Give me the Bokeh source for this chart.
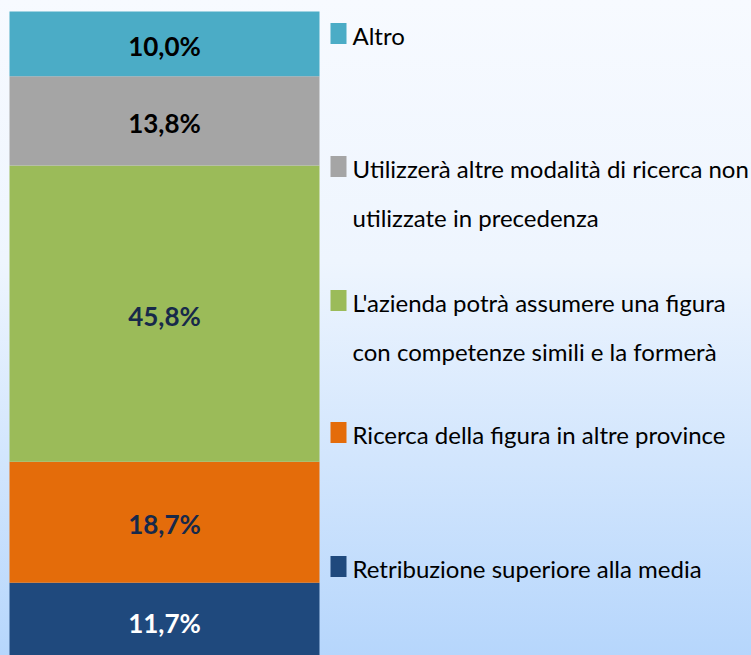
from bokeh.plotting import figure
from bokeh.models import Range1d, ColumnDataSource, InlineStyleSheet
from bokeh.embed import file_html
from bokeh.resources import INLINE
from bokeh.core.properties import value
import numpy as np

# ---- data (stacked from bottom to top) ----
categories = [
    "Retribuzione superiore alla media",
    "Ricerca della figura in altre province",
    "L'azienda potrà assumere una figura\ncon competenze simili e la formerà",
    "Utilizzerà altre modalità di ricerca non\nutilizzate in precedenza",
    "Altro",
]
values = [11.7, 18.7, 45.8, 13.8, 10.0]

# ---- styles ----
colors = ["#1f497d", "#e46c0a", "#9bbb59", "#a5a5a5", "#4bacc6"]
label_colors = ["#ffffff", "#17294a", "#17294a", "#000000", "#000000"]
legend_y = [566, 432, 300, 166, 33]      # screen px centre of each legend swatch
FONT = "Lato"

W, H = 751, 655
p = figure(width=W, height=H, output_backend="svg", toolbar_location=None,
           x_range=Range1d(0, W), y_range=Range1d(0.46, 101.7),
           x_axis_type=None, y_axis_type=None, min_border=0)
p.extra_y_ranges = {"px": Range1d(H, 0)}
p.outline_line_color = None
p.background_fill_color = None
p.border_fill_color = None
p.stylesheets = [InlineStyleSheet(css=":host { background: linear-gradient(to bottom, #f7faff 0%, #eef5fe 40%, #b6d6fc 100%); }")]

vals = np.array(values)
top = np.cumsum(vals)
bottom = top - vals
src = ColumnDataSource(dict(bottom=bottom, top=top, color=colors,
                            mid=(bottom + top) / 2,
                            lab=[f"{v:.1f}".replace(".", ",") + "%" for v in values],
                            lc=label_colors))
p.vbar(x=164, width=310, bottom="bottom", top="top", fill_color="color",
       line_color=None, source=src)
p.text(x=164, y="mid", text="lab", text_color="lc", source=src,
       text_align="center", text_baseline="middle", y_offset=2,
       text_font=value(FONT), text_font_style="bold", text_font_size="26px")

# ---- legend ----
p.rect(x=338, y=legend_y, width=16, height=21, width_units="screen",
       height_units="screen", fill_color=colors, line_color=None, y_range_name="px")
lx, ly = [], []
for lab, yc in zip(categories, legend_y):
    for i, line in enumerate(lab.split("\n")):
        lx.append(line)
        ly.append(yc + 2 + i * 49)
p.text(x=352, y=ly, text=lx, y_range_name="px", text_align="left",
       text_baseline="alphabetic", text_font=value(FONT), text_font_size="24px",
       text_color="#000000")

open("out.html", "w").write(file_html(p, INLINE))
